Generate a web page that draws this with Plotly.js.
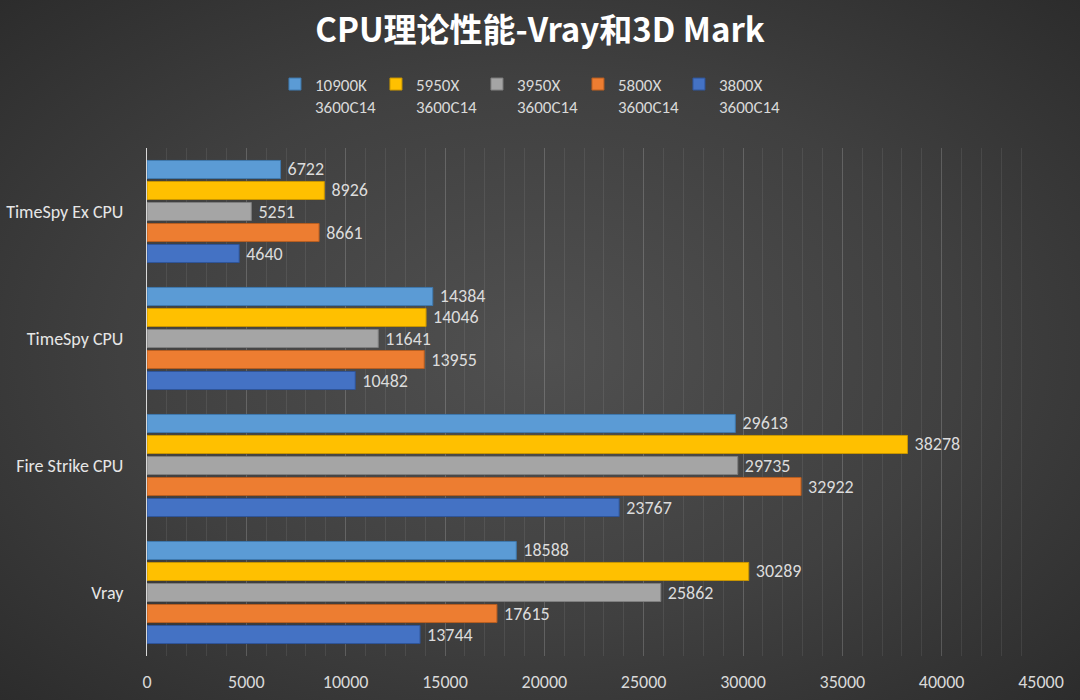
<!DOCTYPE html>
<html>
<head>
<meta charset="utf-8">
<script src="https://cdn.plot.ly/plotly-3.0.1.min.js"></script>
<style>
html,body{margin:0;padding:0;}
body{width:1080px;height:700px;background:radial-gradient(ellipse at 50% 50%, #505050 0%, #404040 55%, #2c2c2c 100%);}
#chart{width:1080px;height:700px;}
</style>
</head>
<body>
<div id="chart"></div>
<script>
const categories = ["TimeSpy Ex CPU", "TimeSpy CPU", "Fire Strike CPU", "Vray"];
const seriesNames = ["10900K<br>3600C14", "5950X<br>3600C14", "3950X<br>3600C14", "5800X<br>3600C14", "3800X<br>3600C14"];
const v10900K = [6722, 14384, 29613, 18588];
const v5950X = [8926, 14046, 38278, 30289];
const v3950X = [5251, 11641, 29735, 25862];
const v5800X = [8661, 13955, 32922, 17615];
const v3800X = [4640, 10482, 23767, 13744];
const xTicks = [0, 5000, 10000, 15000, 20000, 25000, 30000, 35000, 40000, 45000];

const values = [v10900K, v5950X, v3950X, v5800X, v3800X];
const colors = ["#5B9BD5", "#FFC000", "#A5A5A5", "#ED7D31", "#4472C4"];
const lineColors = ["#3f79ae", "#c99600", "#7f7f7f", "#b85e20", "#2f559a"];

const font = "Calibri, Carlito, 'Noto Sans', 'Liberation Sans', sans-serif";

const traces = values.map((v, i) => ({
  type: "bar",
  orientation: "h",
  name: seriesNames[i],
  y: categories,
  x: v,
  text: v.map(n => "\u00a0" + n),
  textposition: "outside",
  constraintext: "none",
  cliponaxis: false,
  textfont: {color: "#dcdcdc", size: 18, family: font},
  marker: {color: colors[i], line: {color: lineColors[i], width: 1}},
  hoverinfo: "x+name"
}));

const layout = {
  width: 1080, height: 700,
  paper_bgcolor: "rgba(0,0,0,0)",
  plot_bgcolor: "rgba(0,0,0,0)",
  margin: {l: 147, r: 39, t: 148, b: 44},
  barmode: "group",
  bargap: 0.173,
  bargroupgap: 0.14,
  title: {
    text: "<b>CPU理论性能-Vray和3D Mark</b>",
    font: {family: "'Noto Sans CJK SC', sans-serif", size: 33, color: "#ffffff"},
    x: 0.5, xanchor: "center", xref: "container",
    y: 0.957, yanchor: "middle", yref: "container"
  },
  showlegend: true,
  legend: {
    orientation: "h",
    xref: "container", yref: "container",
    x: 0.2546, xanchor: "left",
    y: 0.905, yanchor: "top",
    entrywidth: 56, entrywidthmode: "pixels",
    traceorder: "normal",
    valign: "top",
    itemwidth: 30,
    font: {family: font, size: 17, color: "#d9d9d9"},
    bgcolor: "rgba(0,0,0,0)"
  },
  xaxis: {
    range: [0, 45000],
    tickvals: xTicks,
    ticktext: xTicks.map(String),
    showgrid: true,
    gridcolor: "rgba(255,255,255,0.11)",
    gridwidth: 1,
    minor: {dtick: 1000, tick0: 0, showgrid: true, gridcolor: "rgba(255,255,255,0.08)", gridwidth: 1},
    zeroline: false,
    showline: false,
    ticks: "",
    tickfont: {family: font, size: 18, color: "#d9d9d9"},
    ticklabelstandoff: 13,
    fixedrange: true
  },
  yaxis: {
    type: "category",
    autorange: "reversed",
    showgrid: false,
    zeroline: false,
    showline: true,
    linecolor: "#d9d9d9",
    linewidth: 1,
    ticks: "",
    ticklabelstandoff: 19,
    tickfont: {family: font, size: 18, color: "#e6e6e6"},
    fixedrange: true
  }
};

Plotly.newPlot("chart", traces, layout, {displayModeBar: false, staticPlot: true});
</script>
</body>
</html>
